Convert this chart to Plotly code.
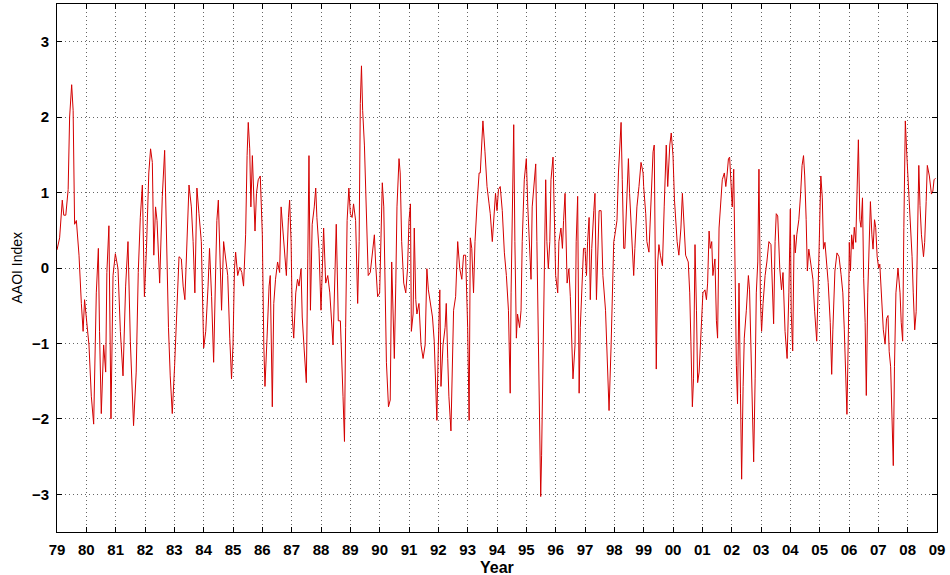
import plotly.graph_objects as go

# Antarctic Oscillation index; one row per calendar year
year_frac = [
    1979.00, 1979.09, 1979.18, 1979.23, 1979.30, 1979.38, 1979.43, 1979.50, 1979.55, 1979.60, 1979.66, 1979.75, 1979.83, 1979.89, 1979.94,
    1980.00, 1980.09, 1980.17, 1980.25, 1980.34, 1980.41, 1980.45, 1980.51, 1980.59, 1980.66, 1980.70, 1980.77, 1980.84, 1980.91, 1980.99,
    1981.08, 1981.16, 1981.25, 1981.34, 1981.42, 1981.50, 1981.61, 1981.70, 1981.77, 1981.84, 1981.91, 1981.98,
    1982.05, 1982.13, 1982.19, 1982.25, 1982.30, 1982.36, 1982.41, 1982.50, 1982.59, 1982.67, 1982.73, 1982.80, 1982.86, 1982.93,
    1983.01, 1983.09, 1983.16, 1983.24, 1983.30, 1983.36, 1983.43, 1983.50, 1983.58, 1983.64, 1983.70, 1983.77, 1983.84, 1983.92,
    1984.00, 1984.07, 1984.15, 1984.20, 1984.27, 1984.34, 1984.41, 1984.45, 1984.50, 1984.57, 1984.61, 1984.68, 1984.75, 1984.82, 1984.89, 1984.95,
    1985.00, 1985.05, 1985.09, 1985.16, 1985.23, 1985.30, 1985.36, 1985.43, 1985.48, 1985.52, 1985.57, 1985.61, 1985.66, 1985.70, 1985.75, 1985.80, 1985.86, 1985.93,
    1986.00, 1986.05, 1986.09, 1986.16, 1986.23, 1986.27, 1986.34, 1986.39, 1986.45, 1986.52, 1986.59, 1986.64, 1986.68, 1986.75, 1986.82, 1986.89, 1986.93, 1986.98,
    1987.02, 1987.07, 1987.14, 1987.20, 1987.25, 1987.32, 1987.36, 1987.43, 1987.50, 1987.55, 1987.59, 1987.64, 1987.70, 1987.77, 1987.82, 1987.86, 1987.93,
    1988.00, 1988.05, 1988.09, 1988.16, 1988.23, 1988.30, 1988.36, 1988.41, 1988.48, 1988.52, 1988.59, 1988.66, 1988.75, 1988.80, 1988.84, 1988.89, 1988.95,
    1989.00, 1989.06, 1989.11, 1989.18, 1989.25, 1989.30, 1989.34, 1989.38, 1989.42, 1989.48, 1989.55, 1989.61, 1989.68, 1989.75, 1989.82, 1989.86, 1989.93,
    1990.00, 1990.05, 1990.09, 1990.14, 1990.18, 1990.23, 1990.30, 1990.36, 1990.41, 1990.45, 1990.50, 1990.55, 1990.59, 1990.66, 1990.70, 1990.75, 1990.82, 1990.89, 1990.95,
    1991.00, 1991.05, 1991.08, 1991.14, 1991.18, 1991.23, 1991.27, 1991.34, 1991.41, 1991.48, 1991.55, 1991.61, 1991.66, 1991.73, 1991.80, 1991.86, 1991.91, 1991.95,
    1992.00, 1992.05, 1992.09, 1992.16, 1992.23, 1992.27, 1992.32, 1992.36, 1992.43, 1992.48, 1992.52, 1992.59, 1992.66, 1992.73, 1992.80, 1992.86, 1992.93,
    1993.00, 1993.05, 1993.09, 1993.14, 1993.20, 1993.25, 1993.32, 1993.39, 1993.43, 1993.48, 1993.52, 1993.59, 1993.66, 1993.73, 1993.77, 1993.84, 1993.89, 1993.95,
    1994.00, 1994.05, 1994.11, 1994.18, 1994.25, 1994.32, 1994.39, 1994.45, 1994.48, 1994.52, 1994.57, 1994.61, 1994.66, 1994.70, 1994.77, 1994.82, 1994.86, 1994.93,
    1995.00, 1995.05, 1995.11, 1995.16, 1995.20, 1995.27, 1995.32, 1995.36, 1995.41, 1995.45, 1995.49, 1995.52, 1995.57, 1995.61, 1995.66, 1995.70, 1995.75, 1995.80, 1995.84, 1995.91, 1995.95,
    1996.00, 1996.07, 1996.11, 1996.18, 1996.23, 1996.27, 1996.32, 1996.39, 1996.45, 1996.50, 1996.55, 1996.59, 1996.66, 1996.70, 1996.75, 1996.80, 1996.84, 1996.91, 1996.95,
    1997.00, 1997.05, 1997.09, 1997.14, 1997.18, 1997.23, 1997.30, 1997.34, 1997.39, 1997.43, 1997.48, 1997.55, 1997.61, 1997.70, 1997.77, 1997.82, 1997.89, 1997.93, 1997.98,
    1998.02, 1998.09, 1998.14, 1998.18, 1998.23, 1998.27, 1998.32, 1998.36, 1998.41, 1998.48, 1998.52, 1998.59, 1998.66, 1998.70, 1998.77, 1998.84, 1998.91, 1998.98,
    1999.00, 1999.07, 1999.11, 1999.18, 1999.23, 1999.27, 1999.32, 1999.36, 1999.41, 1999.43, 1999.48, 1999.52, 1999.57, 1999.64, 1999.70, 1999.77, 1999.82, 1999.89, 1999.94,
    2000.00, 2000.05, 2000.09, 2000.14, 2000.20, 2000.27, 2000.32, 2000.36, 2000.43, 2000.52, 2000.57, 2000.61, 2000.66, 2000.70, 2000.75, 2000.80, 2000.84, 2000.89, 2000.93, 2000.98,
    2001.02, 2001.09, 2001.14, 2001.18, 2001.23, 2001.27, 2001.32, 2001.36, 2001.43, 2001.48, 2001.52, 2001.57, 2001.64, 2001.68, 2001.75, 2001.80, 2001.84, 2001.89, 2001.93, 2001.98,
    2002.02, 2002.07, 2002.11, 2002.16, 2002.20, 2002.25, 2002.30, 2002.34, 2002.39, 2002.43, 2002.50, 2002.57, 2002.61, 2002.66, 2002.70, 2002.75, 2002.80, 2002.84, 2002.89, 2002.93, 2002.98,
    2003.02, 2003.07, 2003.14, 2003.20, 2003.27, 2003.34, 2003.39, 2003.43, 2003.48, 2003.52, 2003.57, 2003.64, 2003.70, 2003.75, 2003.82, 2003.89, 2003.95,
    2004.00, 2004.03, 2004.08, 2004.13, 2004.17, 2004.22, 2004.29, 2004.35, 2004.40, 2004.45, 2004.49, 2004.54, 2004.58, 2004.63, 2004.70, 2004.77, 2004.83, 2004.90, 2004.95, 2004.99,
    2005.04, 2005.09, 2005.13, 2005.18, 2005.22, 2005.29, 2005.36, 2005.41, 2005.45, 2005.52, 2005.59, 2005.66, 2005.73, 2005.79, 2005.84, 2005.89, 2005.93, 2005.98,
    2006.01, 2006.05, 2006.09, 2006.14, 2006.18, 2006.23, 2006.27, 2006.32, 2006.37, 2006.41, 2006.46, 2006.50, 2006.55, 2006.59, 2006.64, 2006.69, 2006.73, 2006.78, 2006.82, 2006.87, 2006.91, 2006.96,
    2007.01, 2007.05, 2007.10, 2007.17, 2007.23, 2007.28, 2007.33, 2007.37, 2007.42, 2007.46, 2007.51, 2007.55, 2007.60, 2007.67, 2007.74, 2007.78, 2007.83, 2007.87, 2007.92, 2007.97,
    2008.01, 2008.06, 2008.10, 2008.15, 2008.19, 2008.24, 2008.29, 2008.33, 2008.38, 2008.42, 2008.47, 2008.54, 2008.58, 2008.63, 2008.67, 2008.74, 2008.81, 2008.86, 2008.90, 2008.95,
]

aaoi = [
    0.24, 0.40, 0.90, 0.70, 0.70, 1.04, 2.00, 2.43, 2.09, 0.58, 0.63, 0.17, -0.47, -0.84, -0.42,
    -0.70, -1.02, -1.70, -2.07, -0.33, 0.26, -0.84, -1.93, -1.02, -1.38, -0.06, 0.56, -2.00, -0.10, 0.19,
    -0.01, -0.84, -1.43, -0.24, 0.35, -0.97, -2.09, -1.38, -0.06, 0.67, 1.10, -0.38,
    0.26, 1.26, 1.58, 1.40, 0.17, 0.81, 0.63, -0.20, 0.95, 1.56, 0.35, -0.79, -1.43, -1.93,
    -1.29, -0.47, 0.15, 0.12, -0.24, -0.42, 0.35, 1.10, 0.81, 0.35, -0.33, 1.06, 0.72, 0.35,
    -1.06, -0.84, -0.24, 0.26, -0.38, -1.25, -0.01, 0.63, 0.90, 0.08, -0.56, 0.35, 0.08, -0.10, -0.93, -1.47,
    -1.02, -0.01, 0.21, -0.10, 0.01, -0.06, -0.24, 0.44, 1.49, 1.93, 1.58, 0.81, 1.49, 0.99, 0.49, 0.99, 1.17, 1.22,
    0.44, -1.02, -1.57, -0.93, -0.24, -0.10, -1.84, -0.47, -0.15, 0.08, -0.06, 0.81, 0.58, 0.17, -0.10, 0.67, 0.90, 0.35,
    -0.65, -0.93, -0.33, -0.15, -0.24, -0.01, -0.65, -1.10, -1.52, 0.12, 1.49, -0.56, 0.58, 0.81, 1.06, 0.67, 0.26,
    -0.56, 0.08, 0.53, -0.20, -0.10, -0.33, -0.74, -1.02, -0.01, 0.58, -0.70, -0.70, -1.70, -2.30, -0.79, 0.63, 1.06,
    0.72, 0.67, 0.85, 0.63, -0.47, 0.35, 2.18, 2.68, 2.09, 1.63, 0.81, -0.10, -0.06, 0.17, 0.44, 0.08, -0.38,
    -0.33, 0.35, 1.13, 0.81, -0.33, -1.25, -1.84, -1.75, 0.08, -0.38, -1.20, -0.20, 0.81, 1.45, 1.26, 0.35, -0.20, -0.33, -0.01,
    0.63, 0.85, -0.84, -0.61, 0.53, -0.42, -0.61, -0.47, -1.02, -1.20, -1.02, -0.01, -0.29, -0.47, -0.65, -0.97, -1.75, -2.02,
    -1.02, -0.29, -1.57, -1.02, -0.79, -0.47, -1.20, -1.70, -2.16, -1.47, -0.56, -0.38, 0.35, -0.01, -0.15, 0.17, 0.17,
    -0.79, -2.02, 0.40, 0.26, -0.33, 0.35, 0.85, 1.26, 1.26, 1.63, 1.95, 1.54, 1.08, 0.85, 0.72, 0.35, 0.67, 0.99,
    0.76, 1.04, 1.08, 0.76, 0.21, -0.10, -0.56, -1.66, -0.33, 0.72, 1.90, 0.35, -0.93, -0.61, -0.79, -0.56, 0.35, 1.17,
    1.45, 0.81, 0.26, -0.15, 0.81, 1.17, 1.38, 0.35, -1.02, -1.93, -3.03, -2.49, -1.02, 0.35, 1.17, 0.35, -0.01, 0.35, 1.17, 1.47, 0.81,
    -0.10, -0.33, 0.35, 0.53, 0.26, 0.63, 0.99, -0.20, -0.01, -0.38, -1.02, -1.47, -1.02, 0.35, 0.95, -1.66, -0.79, -0.01, 0.26,
    0.26, -0.10, 0.35, 0.67, -0.42, 0.26, 0.76, 0.99, -0.42, 0.31, 0.76, 0.76, -0.10, -0.56, -1.25, -1.89, -1.02, -0.20, 0.35,
    0.44, 0.63, 1.26, 1.63, 1.93, 1.17, 0.26, 0.26, 0.81, 1.45, 0.99, 0.35, -0.10, 0.26, 0.81, 1.08, 1.40, 1.26,
    1.08, 0.72, 0.35, 0.21, 0.72, 1.04, 1.54, 1.63, -0.56, -1.34, 0.08, 0.31, 0.17, 0.03, 0.81, 1.63, 1.08, 1.63, 1.79,
    1.49, 0.90, 0.58, 0.35, 0.17, 0.53, 0.99, 0.63, 0.17, 0.08, -0.33, -0.97, -1.84, -1.47, 0.31, -0.56, -1.52, -1.38, -1.02, -0.65,
    -0.33, -0.29, -0.42, -0.20, 0.49, 0.26, 0.35, -0.10, 0.12, -0.70, -0.93, 0.53, 0.99, 1.17, 1.26, 1.08, 1.22, 1.45, 1.47, 1.17,
    0.81, 1.31, -0.10, -1.29, -1.80, -0.20, -1.66, -2.80, -1.57, -0.93, -0.56, -0.10, -0.29, -1.02, -1.84, -2.57, -1.47, -0.33, 0.08, 1.31, -0.42,
    -0.84, -0.47, -0.10, 0.08, 0.35, 0.31, -0.47, -0.74, 0.35, 0.72, 0.69, -0.01, -0.29, -0.06, -0.84, -1.20, -0.33,
    0.78, -0.58, -1.10, 0.44, 0.20, 0.44, 0.64, 0.98, 1.36, 1.49, 1.22, 0.64, -0.04, 0.25, 0.05, -0.15, -0.58, -0.97, -0.24, 0.64,
    1.22, 0.93, 0.25, 0.34, 0.15, -0.19, -0.72, -1.41, -0.82, -0.04, 0.20, 0.15, -0.09, -0.33, -0.82, -1.50, -1.94, -0.82,
    0.34, -0.04, 0.44, 0.25, 0.54, 0.34, 0.83, 1.70, 0.64, 0.54, 0.93, -0.14, -0.72, -1.69, -0.33, 0.54, 0.88, 0.44, 0.25, 0.64, 0.54, 0.15,
    0.00, 0.05, -0.33, -0.82, -1.01, -0.67, -0.63, -1.11, -1.31, -1.89, -2.62, -1.31, -0.33, 0.00, -0.33, -0.72, -0.97, 0.54, 1.95, 1.51,
    1.22, 0.93, 0.54, 0.15, -0.33, -0.82, -0.58, 0.15, 1.36, 0.83, 0.44, 0.15, 0.34, 0.88, 1.36, 1.22, 0.98, 1.02, 1.17, 1.19,
]

year_ticks = list(range(1979, 2010))
year_labels = [f"{y % 100:02d}" for y in year_ticks]
index_ticks = [-3, -2, -1, 0, 1, 2, 3]

assert len(year_frac) == len(aaoi)

FONT = "Liberation Sans, Arial, sans-serif"
TICK_FONT = dict(family=FONT, size=15, color="black", weight="bold")
AXIS = dict(
    showline=True, linecolor="black", linewidth=1, mirror="ticks",
    ticks="inside", ticklen=5, tickcolor="black",
    showgrid=True, gridcolor="#666666", gridwidth=1, griddash="1px,3px",
    zeroline=False, tickfont=TICK_FONT, ticklabelstandoff=4,
)

fig = go.Figure(go.Scatter(
    x=year_frac, y=aaoi,
    mode="lines",
    line=dict(color="#d40000", width=1),
    hoverinfo="x+y",
))

fig.update_xaxes(range=[1979, 2009], tickvals=year_ticks, ticktext=year_labels, **AXIS)
fig.update_yaxes(range=[-3.5, 3.5], tickvals=index_ticks, **AXIS)

fig.update_layout(
    width=950, height=575,
    margin=dict(l=57, r=13, t=4, b=43),
    plot_bgcolor="white", paper_bgcolor="white",
    showlegend=False,
    annotations=[
        dict(text="Year", xref="paper", yref="paper", x=0.5, y=-0.067,
             xanchor="center", yanchor="middle", showarrow=False,
             font=dict(family=FONT, size=16, color="black", weight="bold")),
        dict(text="AAOI Index", xref="paper", yref="paper", x=-0.046, y=0.5,
             xanchor="center", yanchor="middle", textangle=-90, showarrow=False,
             font=dict(family=FONT, size=14, color="black")),
    ],
)

# drop the page's default body margin so the figure sits at the window corner
fig.write_html("out.html", config={"displayModeBar": False},
               post_script="document.body.style.margin = '0';")
